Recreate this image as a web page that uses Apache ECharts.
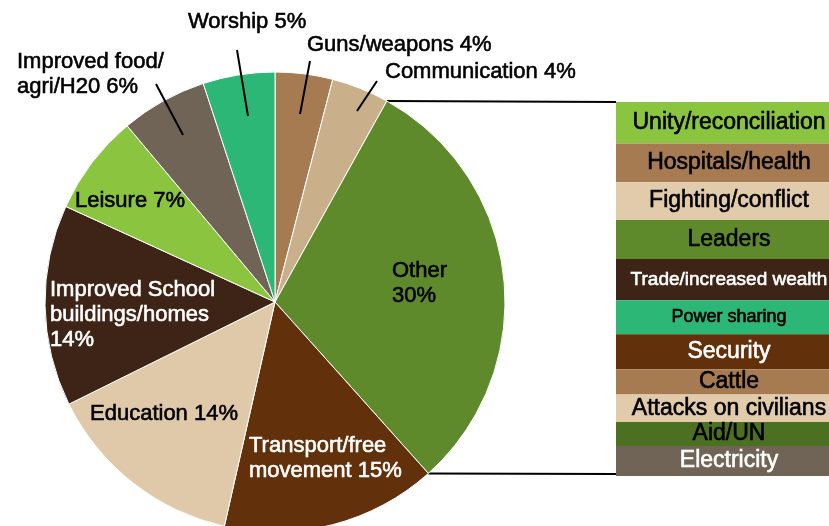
<!DOCTYPE html>
<html>
<head>
<meta charset="utf-8">
<script src="https://cdn.jsdelivr.net/npm/echarts@6/dist/echarts.min.js"></script>
<style>
  html, body { margin: 0; padding: 0; background: #fff; }
  #chart { width: 829px; height: 526px; }
</style>
</head>
<body>
<div id="chart"></div>
<script>
// pie: clockwise from 12 o'clock
const pieNames = ["Guns/weapons", "Communication", "Other", "Transport/free\nmovement", "Education",
  "Improved School\nbuildings/homes", "Leisure", "Improved food/\nagri/H20", "Worship"];
const pieValues = [4, 4, 30, 15, 14, 14, 7, 6, 5];
// slices whose percentage sits on its own line
const pctOwnLine = ["Other", "Improved School\nbuildings/homes"];

// breakdown of "Other", top to bottom
const barNames = ["Unity/reconciliation", "Hospitals/health", "Fighting/conflict", "Leaders",
  "Trade/increased wealth", "Power sharing", "Security", "Cattle", "Attacks on civilians", "Aid/UN", "Electricity"];
const barValues = [3.3, 3.1, 3.0, 3.1, 3.3, 2.7, 2.8, 2.0, 2.2, 1.9, 2.4];

const pieColors = ["#a67b52", "#c9b08a", "#5f8a2c", "#62300a", "#e0c9a8", "#3d2416", "#8bc43f", "#6f6456", "#2db777"];
const pieTextColors = ["#000", "#000", "#000", "#fff", "#000", "#fff", "#000", "#000", "#000"];
const barColors = ["#8bc43f", "#a67b52", "#e2cbab", "#5f8a2c", "#3d2416", "#2db777", "#62300a", "#a67b52", "#e2cbab", "#4b7021", "#6f6456"];
const barTextColors = ["#000", "#000", "#000", "#000", "#fff", "#000", "#fff", "#000", "#000", "#000", "#fff"];
const barFontSizes = [23, 23, 23, 23, 19, 18, 23, 23, 23, 23, 23];

const FONT = "'Helvetica Neue', Helvetica, Arial, 'Liberation Sans', sans-serif";
const cx = 275, cy = 302, R = 230;
const grid = { left: 616, top: 102, width: 226, height: 374 };

// label anchors (left edge, vertical middle) relative to the pie centre
const labelSpots = [[32, -257], [110, -230], [117, -19], [-26, 156], [-185, 112],
  [-225, 13], [-200, -101], [-258, -228], [-87, -280]];
// leader lines for the outside labels, relative to the pie centre
const leaders = {
  0: [[25, -188], [35, -241]],
  1: [[82, -191], [102, -221]],
  7: [[-92, -167], [-119, -218]],
  8: [[-27, -186], [-38, -252]]
};

const chart = echarts.init(document.getElementById("chart"));
const barTotal = barValues.reduce((a, b) => a + b, 0);

// the original type is a medium weight; a thin outline in the text colour thickens it
function medium(color) {
  return { color, textBorderColor: color, textBorderWidth: 0.6 };
}

chart.setOption({
  animation: false,
  grid: {
    left: grid.left, top: grid.top, width: grid.width, height: grid.height,
    outerBoundsMode: "none"
  },
  xAxis: { type: "category", data: ["Other"], show: false },
  yAxis: { type: "value", inverse: true, min: 0, max: barTotal, show: false },
  series: [
    {
      type: "pie",
      center: [cx, cy],
      radius: R,
      startAngle: 90,
      clockwise: true,
      avoidLabelOverlap: false,
      itemStyle: { borderColor: "#fff", borderWidth: 1 },
      data: pieNames.map((name, i) => ({
        name,
        value: pieValues[i],
        itemStyle: { color: pieColors[i] },
        label: medium(pieTextColors[i])
      })),
      label: {
        show: true,
        position: "inside",
        fontFamily: FONT,
        fontSize: 22,
        lineHeight: 25,
        formatter: (p) => p.name + (pctOwnLine.includes(p.name) ? "\n" : " ") + p.value + "%"
      },
      labelLine: { show: false },
      labelLayout: function (p) {
        const s = labelSpots[p.dataIndex];
        return { x: cx + s[0], y: cy + s[1], align: "left", verticalAlign: "middle" };
      }
    },
    ...barNames.map((name, i) => ({
      type: "bar",
      name,
      stack: "other",
      barWidth: "100%",
      clip: false,
      data: [barValues[i]],
      itemStyle: { color: barColors[i] },
      label: {
        show: true,
        position: "inside",
        formatter: name,
        fontFamily: FONT,
        fontSize: barFontSizes[i],
        ...medium(barTextColors[i])
      }
    }))
  ]
});

// connector lines from the edges of the "Other" slice to the bar
const pieTotal = pieValues.reduce((a, b) => a + b, 0);
const otherIdx = pieNames.indexOf("Other");
const before = pieValues.slice(0, otherIdx).reduce((a, b) => a + b, 0);
function piePoint(v) {
  const ang = (v / pieTotal) * Math.PI * 2;
  return [cx + R * Math.sin(ang), cy - R * Math.cos(ang)];
}
const p1 = piePoint(before);
const p2 = piePoint(before + pieValues[otherIdx]);
const barTop = chart.convertToPixel({ yAxisIndex: 0 }, 0);
const barBottom = chart.convertToPixel({ yAxisIndex: 0 }, barTotal);

const lineStyle = { stroke: "#000", lineWidth: 2 };
const guideLines = Object.keys(leaders).map((k) => {
  const l = leaders[k];
  return {
    type: "line", z: 100,
    shape: { x1: cx + l[0][0], y1: cy + l[0][1], x2: cx + l[1][0], y2: cy + l[1][1] },
    style: lineStyle
  };
});

chart.setOption({
  graphic: [
    { type: "line", z: 0, shape: { x1: p1[0], y1: p1[1], x2: grid.left, y2: barTop }, style: lineStyle },
    { type: "line", z: 0, shape: { x1: p2[0], y1: p2[1], x2: grid.left, y2: barBottom - 2 }, style: lineStyle },
    ...guideLines
  ]
});
</script>
</body>
</html>
